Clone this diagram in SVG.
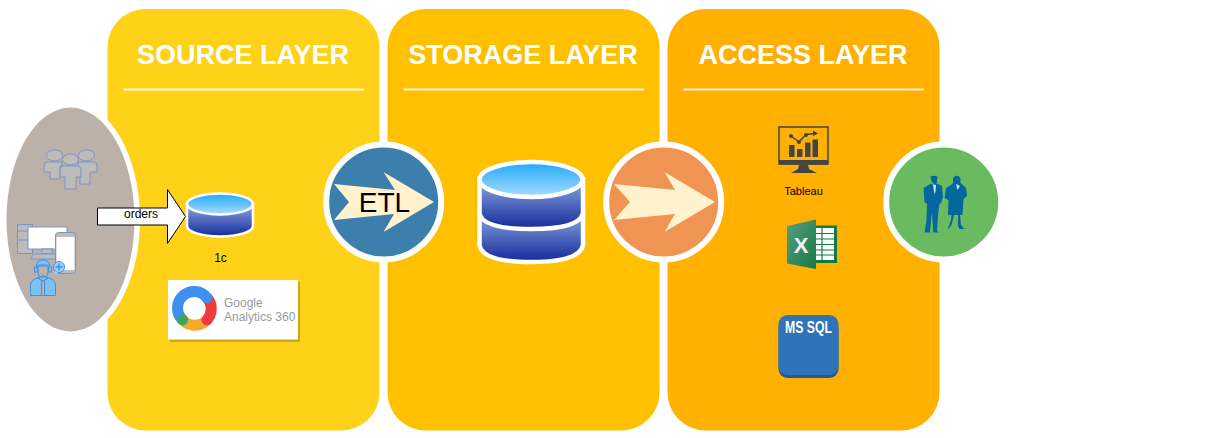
<svg xmlns="http://www.w3.org/2000/svg" width="1224" height="438" viewBox="0 0 1224 438">
<defs>
<linearGradient id="top" x1="0" y1="0" x2="0" y2="1"><stop offset="0" stop-color="#1fa9fb"/><stop offset="1" stop-color="#a9dcfc"/></linearGradient>
<linearGradient id="body" x1="0" y1="0" x2="0" y2="1"><stop offset="0" stop-color="#8eaadf"/><stop offset="1" stop-color="#142a9c"/></linearGradient>
<linearGradient id="xl" x1="0" y1="0" x2="1" y2="1"><stop offset="0" stop-color="#5a9d80"/><stop offset="1" stop-color="#147a45"/></linearGradient>
<style>
.title{font:bold 27px "Liberation Sans",Arial,sans-serif;fill:#fff;text-anchor:middle}
.rule{stroke:#fff;stroke-width:2;opacity:.85;fill:none}
.t{font-family:"Liberation Sans",Arial,sans-serif;fill:#000;text-anchor:middle}
.ring{stroke:#fff;stroke-width:6}
.g{fill:#bcbcbc;stroke:#7c93c4;stroke-width:1}
.w{fill:#fff;stroke:#7c93c4;stroke-width:1}
.b{fill:#7cc0f4;stroke:#3d92e8;stroke-width:1}
.sk{fill:#bcb1a8;stroke:#3d92e8;stroke-width:1}
.p{fill:#04689f}
.cyl{stroke:#fff;stroke-width:4}
.ga{font-family:"Liberation Sans",Arial,sans-serif;font-size:12px;fill:#9a9a9a}
.arc{fill:none;stroke-width:11}
</style>
</defs>
<g id="source-layer"><rect x="107.500" y="9" width="272" height="421.500" rx="38" fill="#ffd119"/><text class="title" x="243" y="64">SOURCE LAYER</text><path class="rule" d="M123.500 89.500H364"/></g>
<g id="storage-layer"><rect x="387.500" y="9" width="272" height="421.500" rx="38" fill="#ffc000"/><text class="title" x="523" y="64">STORAGE LAYER</text><path class="rule" d="M403.500 89.500H644"/></g>
<g id="access-layer"><rect x="667.500" y="9" width="272" height="421.500" rx="38" fill="#ffb000"/><text class="title" x="803" y="64">ACCESS LAYER</text><path class="rule" d="M683.500 89.500H924"/></g>

<g id="consumers"><ellipse cx="70.500" cy="219.500" rx="69.500" ry="118" fill="#fff"/>
<ellipse cx="70.500" cy="219.500" rx="64" ry="112" fill="#bcb1a8"/>
<g id="users"><ellipse cx="54.500" cy="155.500" rx="8" ry="5.500" class="g"/><ellipse cx="86.500" cy="155.500" rx="8" ry="5.500" class="g"/><path class="g" d="M47 162H62V166H60V179H50V172H44V166Q44 162 47 162ZM78 162H94Q97 162 97 166V172H90V184H80V172H78Z"/><ellipse cx="70.500" cy="159.500" rx="8" ry="5.500" class="g"/><path class="g" d="M63 166H78Q81 166 81 170V177H76V189H65V177H60V170Q60 166 63 166Z"/></g>
<g id="devices"><rect x="17.500" y="224.500" width="15" height="29" class="g"/><path class="g" d="M17.500 231H32.500M17.500 240H32.500"/><rect x="28" y="227" width="39" height="22" class="w"/><rect x="42" y="249" width="10" height="5" class="g"/><path class="g" d="M34 254H60V259H30Z"/><rect x="55.500" y="232.500" width="20" height="41" rx="3" class="g"/><rect x="56.500" y="237" width="18" height="33" fill="#fff"/></g>
<g id="agent"><path class="b" d="M30.500 295.500V285Q31 279 38 278L43 282L48 278Q55 279 55.500 285V295.500Z"/><path d="M41.500 281V295.500H44.500V281Z" class="sk"/><path d="M38 277Q43 284 48 277Z" class="b"/><path class="sk" d="M38 266H48V272Q48 277 43 277Q38 277 38 272Z"/><path class="b" d="M36.500 267Q36 260 43 260Q50 260 49.500 267L47 265H39Z"/><rect x="34.500" y="267" width="3" height="5" class="b"/><rect x="48.500" y="267" width="3" height="5" class="b"/><path d="M40 273Q43 278 46 273L44 276H42Z" fill="#3d92e8"/><circle cx="59" cy="267" r="5.500" fill="#9ed0f6" stroke="#3d92e8"/><path d="M59 263.500V270.500M55.500 267H62.500" stroke="#3d92e8" stroke-width="1.500"/><path d="M55 271L54 275L58 272.500Z" fill="#9ed0f6"/></g>
</g>

<g id="connectors"><path id="orders-arrow" d="M97.500 208H167.500V189.500L185.500 216.500L167.500 243.500V225H97.500Z" fill="#fff" stroke="#000" stroke-width="1"/></g>
<text class="t" x="141" y="218" font-size="12">orders</text>

<g id="db-1c"><path d="M187 204V226A33 10.500 0 0 0 253 226V204Z" fill="url(#body)" stroke="#fff" stroke-width="2.500"/><ellipse cx="220" cy="204" rx="33" ry="10.500" fill="url(#top)" stroke="#fff" stroke-width="2.500"/><text class="t" x="220.500" y="262" font-size="12">1c</text></g>

<g id="ga360"><rect x="170" y="282" width="130" height="60" fill="#c8aa12"/><rect x="168" y="280" width="130" height="59.500" fill="#fff"/>
<path class="arc" d="M182.600 319.900A16.500 16.500 0 0 0 207 319.900" stroke="#f4a92b"/>
<path class="arc" d="M207 297.800A16.500 16.500 0 0 1 207 319.900" stroke="#ee3a3a"/>
<path class="arc" d="M182.600 319.900A16.500 16.500 0 1 1 207 297.800" stroke="#3e8ff0"/>
<circle cx="207" cy="297.800" r="5.500" fill="#3e8ff0"/><circle cx="207" cy="319.900" r="5.500" fill="#ee3a3a"/><circle cx="182.600" cy="319.900" r="5.500" fill="#3fa757"/>
<text class="ga" x="224" y="307">Google</text><text class="ga" x="224" y="321">Analytics 360</text></g>

<g id="etl"><circle cx="383.700" cy="202" r="57.500" fill="#3d7fac" class="ring"/><path d="M334 184L395 190L383.500 172L434 202L383.500 232L394 214L334 220L349 202Z" fill="#fff2cc"/><text class="t" x="384.500" y="212" font-size="28">ETL</text></g>

<g id="storage-db"><path d="M479.500 211V245Q482 262 531 262Q580 262 583 245V211Z" fill="url(#body)" stroke="#fff" stroke-width="4.500"/><path d="M479.500 179V213Q482 229 531 229Q580 229 583 213V179Z" fill="url(#body)" stroke="#fff" stroke-width="4.500"/><ellipse cx="531" cy="179.500" rx="51.500" ry="17.500" fill="url(#top)" stroke="#fff" stroke-width="4.500"/></g>

<g id="delivery"><circle cx="663.700" cy="202" r="57.500" fill="#f09453" class="ring"/><path d="M614 184L675 190L664.500 172L715 202L664.500 232L675 214L614 220L630 202Z" fill="#fff2cc"/></g>

<g id="tableau"><rect x="779" y="127" width="49" height="37" fill="none" stroke="#444" stroke-width="1.500"/><rect x="779" y="160" width="49" height="4.500" fill="#444"/><path d="M799 164.500H808L809 169L817 173H791L798 169Z" fill="#444"/><rect x="789" y="145" width="5.500" height="12" fill="#444"/><rect x="797" y="149" width="5.500" height="8" fill="#444"/><rect x="805" y="142.500" width="5.500" height="14.500" fill="#444"/><rect x="812.500" y="139.500" width="5.500" height="17.500" fill="#444"/><path d="M791 136L799 142L806 134.500L815 133.500" fill="none" stroke="#444" stroke-width="1.500"/><circle cx="791" cy="136" r="2" fill="#444"/><circle cx="799" cy="142" r="2" fill="#444"/><circle cx="806" cy="135" r="2" fill="#444"/><path d="M813 130.500L818 133.500L813 136Z" fill="#444"/><text class="t" x="803.500" y="195" font-size="11">Tableau</text></g>

<g id="excel"><rect x="812" y="225.500" width="25" height="37.500" fill="#127a45"/><rect x="815" y="228" width="19" height="32" fill="#fff"/><path d="M815 233.500H834M815 239H834M815 244.500H834M815 250H834M815 255H834M822 228V260" stroke="#127a45" stroke-width="1.200"/><path d="M787 226L816 219.500V269L787 263.500Z" fill="url(#xl)"/><text x="801" y="253" font-size="22" font-weight="bold" font-family="'Liberation Sans',Arial,sans-serif" fill="#f2f2f2" text-anchor="middle">X</text></g>

<g id="mssql"><rect x="778.500" y="319" width="60" height="59" rx="9" fill="#245a94"/><rect x="778.500" y="315" width="60" height="60" rx="9" fill="#2f73b8"/><text x="808.500" y="333" font-size="17" font-weight="bold" font-family="'Liberation Sans',Arial,sans-serif" fill="#fff" text-anchor="middle" textLength="47" lengthAdjust="spacingAndGlyphs">MS SQL</text></g>

<g id="business-users"><circle cx="943.700" cy="202" r="57.500" fill="#6abb5f" class="ring"/>
<path class="p" d="M930.500 176.500Q934 175 938 177L937 179V183L935 185L933 183Q931 181 931 178ZM931 183.500L934.500 186L937 183.500L942 186L943 197L941 203L939.500 204L938 215L937 231L939 232.500H933.500L933 229L932 212L930 232L932 232.500H924.500L926.500 220L927 204L924.500 202L923.500 188Z"/>
<path d="M933 185L936 185L935.500 192L934.500 194Z" fill="#cfe3ea"/>
<path class="p" d="M955 176Q959.500 175 960.500 179V183L962 184L966 188L967 196L963.500 199L962.500 215H960L961 225L964.500 229H959.500L958 226V215H954L951.500 225L948.500 229L948 228L951 220L951.500 215H948L948.500 200L944.500 198L946 188L951 185L953 183V178Z"/>
<path d="M956 184L960 186L957.500 190Z" fill="#cfe3ea"/></g>
</svg>
